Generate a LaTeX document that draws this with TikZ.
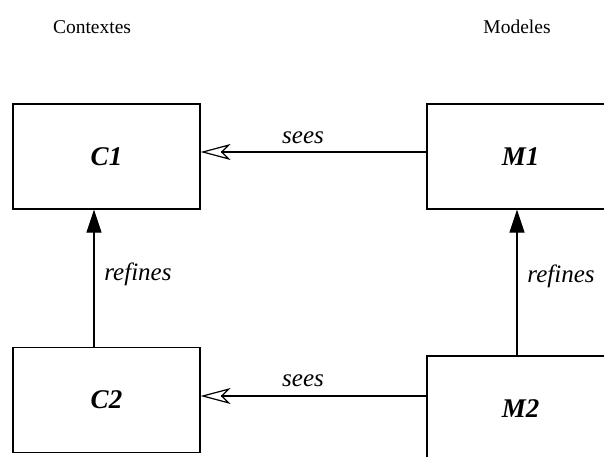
\documentclass[tikz,border=0pt]{standalone}
\usepackage{fontspec}
\setmainfont{Liberation Serif}
\usetikzlibrary{arrows.meta}

\begin{document}
\begin{tikzpicture}[x=1pt,y=-1pt,line cap=rect]
					\definecolor{custcol_0_0_0}{RGB}{0, 0, 0}
					\tikzset{
						modbox/.style={draw, custcol_0_0_0, line width=1.2pt, minimum width=187pt, minimum height=105pt, inner sep=0, font=\fontsize{27pt}{27pt}\selectfont\bfseries\itshape},
						seesarrow/.style={line width=1.2pt, custcol_0_0_0, -{Stealth[open, length=30pt, width=16pt, inset=8pt]}},
						refarrow/.style={line width=1.2pt, custcol_0_0_0, -{Triangle[length=23pt, width=15pt]}},
						arrlabel/.style={inner sep=0, font=\fontsize{25pt}{25pt}\selectfont\itshape},
						heading/.style={inner sep=0, font=\fontsize{19.5pt}{19.5pt}\selectfont}
					}
					\useasboundingbox (0.0,0.0) rectangle (604.0,457.0);
					\node[heading] (contextes) at (92.0,27.0) {Contextes};
					\node[heading] (modeles) at (517.0,27.0) {Modeles};
					\node[modbox] (C1) at (106.5,156.5) {C1};
					\node[modbox] (C2) at (106.5,400.0) {C2};
					\node[modbox] (M1) at (520.5,156.5) {M1};
					\node[modbox] (M2) at (520.5,408.5) {M2};
					\draw [seesarrow] ([yshift=4.5pt]M1.west) -- ([yshift=4.5pt]C1.east);
					\draw [seesarrow] ([yshift=12.5pt]M2.west) -- ([yshift=4.0pt]C2.east);
					\draw [refarrow] ([xshift=-12.5pt]C2.north) -- ([xshift=-12.5pt]C1.south);
					\draw [refarrow] ([xshift=-3.5pt]M2.north) -- ([xshift=-3.5pt]M1.south);
					\node[arrlabel] (seesA) at (303.0,138.0) {sees};
					\node[arrlabel] (seesB) at (303.0,381.0) {sees};
					\node[arrlabel] (refinesC) at (138.0,274.0) {refines};
					\node[arrlabel] (refinesM) at (561.0,276.0) {refines};
				\end{tikzpicture}
\end{document}
